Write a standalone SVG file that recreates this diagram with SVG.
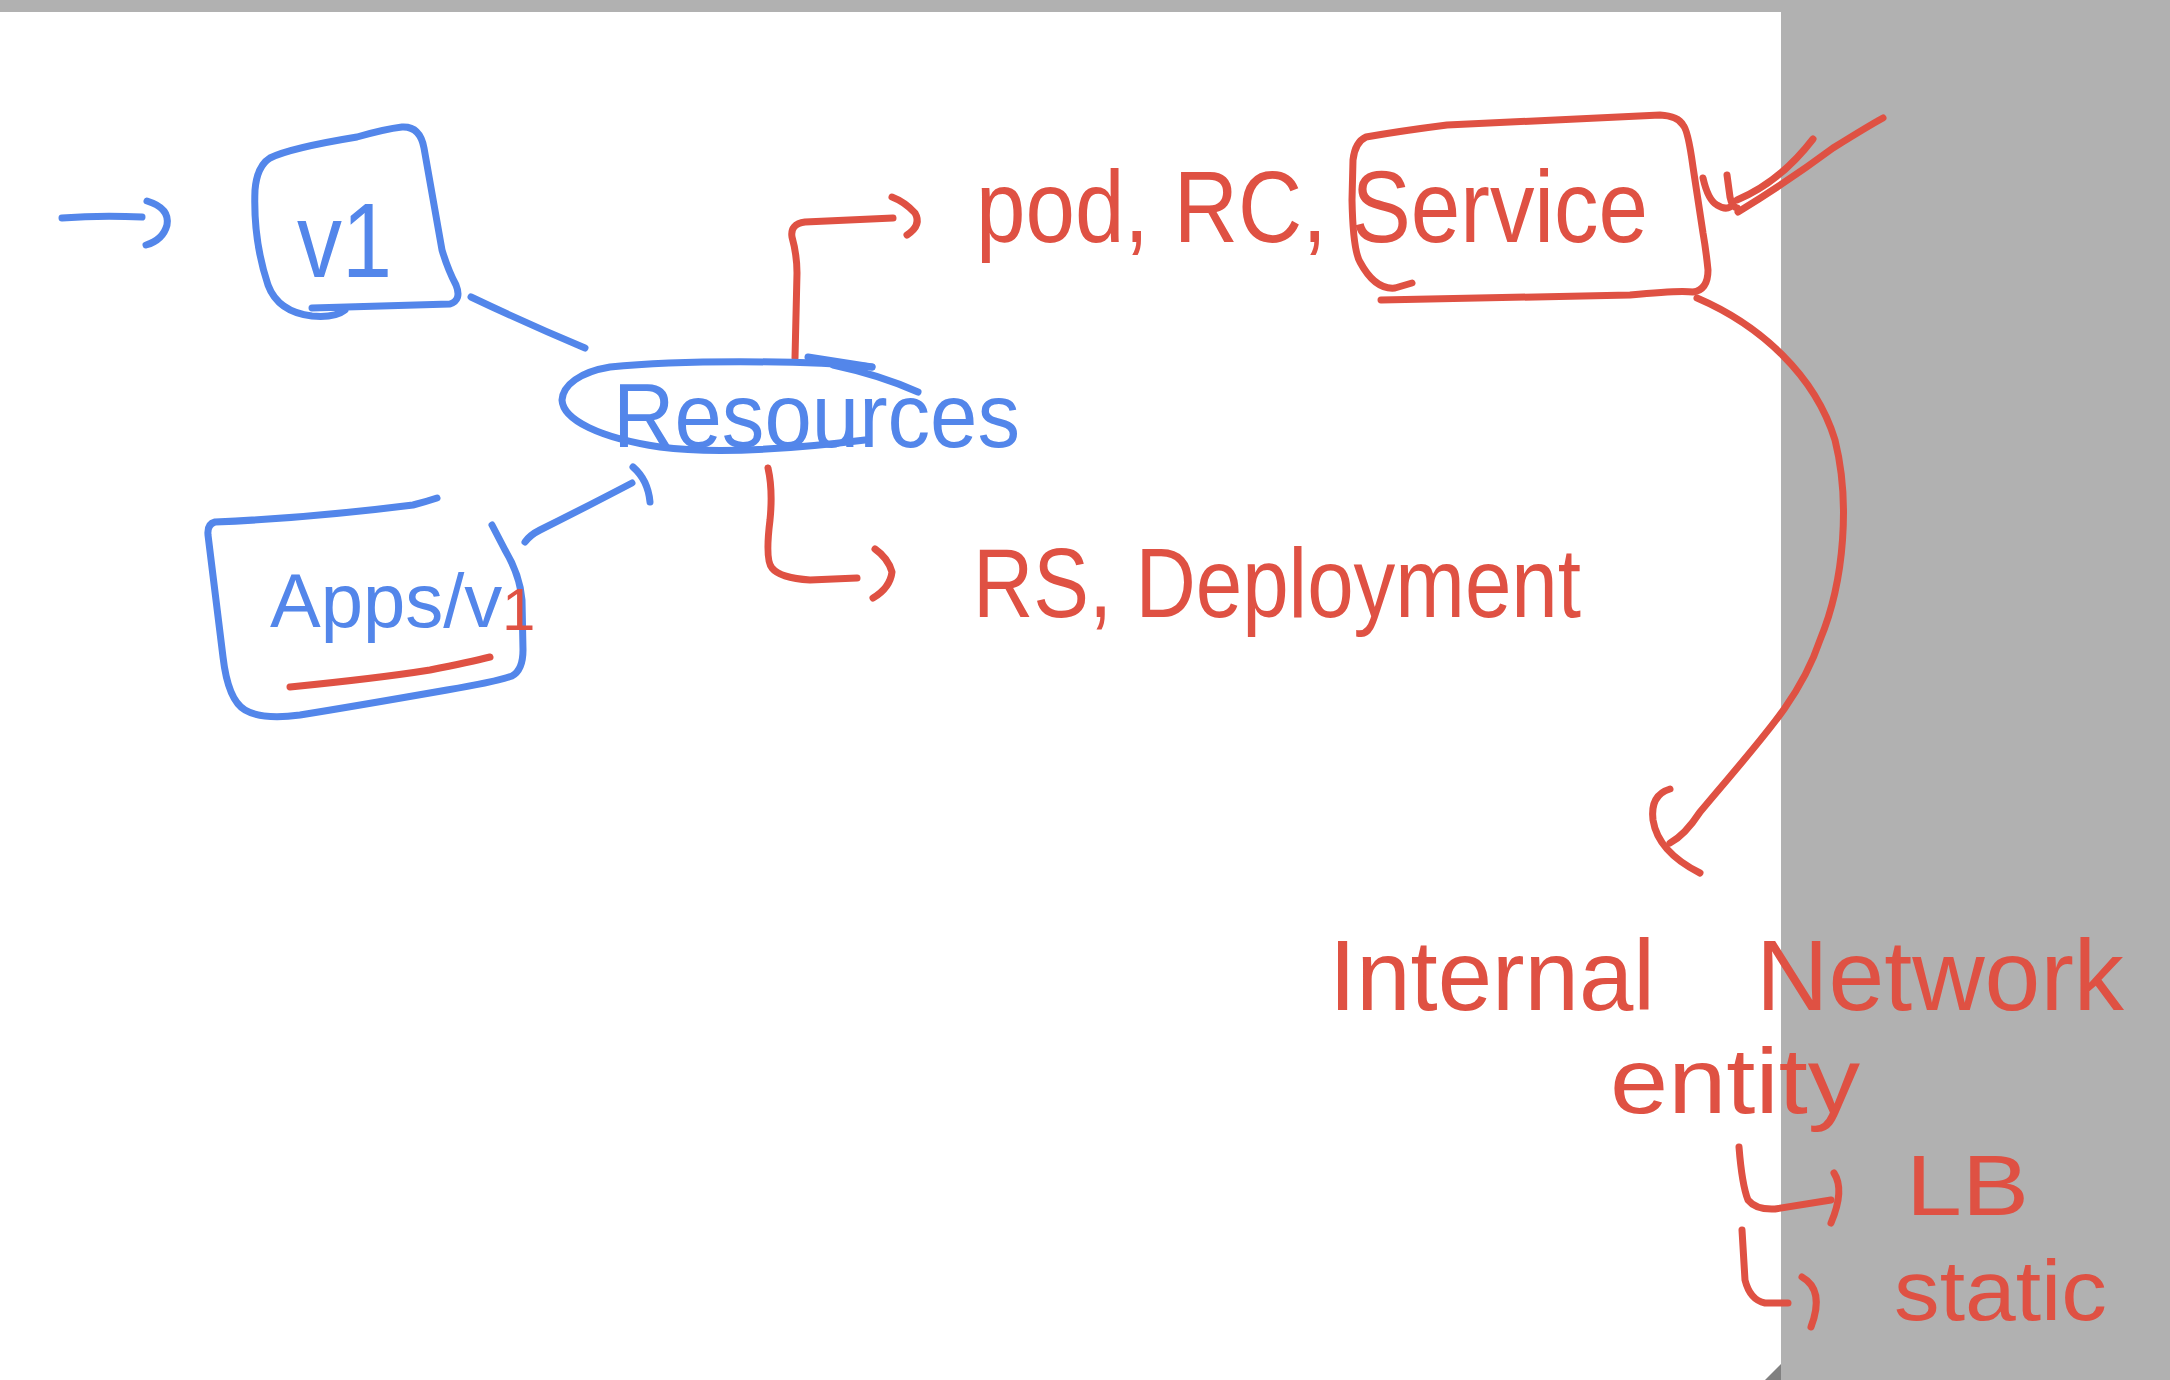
<svg xmlns="http://www.w3.org/2000/svg" width="2170" height="1380" viewBox="0 0 2170 1380">
<style>
.b{fill:none;stroke:#5386EA;stroke-width:7;stroke-linecap:round;stroke-linejoin:round}
.r{fill:none;stroke:#DF5143;stroke-width:7;stroke-linecap:round;stroke-linejoin:round}
.tb{font-family:"Liberation Sans",Arial,sans-serif;fill:#5386EA}
.tr{font-family:"Liberation Sans",Arial,sans-serif;fill:#DF5143}
</style>
<rect x="0" y="0" width="2170" height="1380" fill="#ffffff"/>
<rect x="0" y="0" width="2170" height="12" fill="#b1b1b1"/>
<rect x="1781" y="0" width="389" height="1380" fill="#b1b1b1"/>
<polygon points="1765,1380 1781,1364 1781,1380" fill="#808080"/>

<g id="connectors">
<path class="b" d="M 62,218 Q 100,215 142,217"/>
<path class="b" d="M 147,201 Q 170,208 167,225 Q 163,240 146,245"/>
<path class="b" d="M 471,297 Q 530,325 585,348"/>
<path class="b" d="M 525,542 Q 530,535 540,530 Q 590,505 632,483"/>
<path class="b" d="M 633,467 Q 648,480 650,502"/>
<path class="r" d="M 795,358 L 797,273 Q 797,255 792,237 Q 790,224 805,222 L 893,218"/>
<path class="r" d="M 892,197 Q 905,202 915,213 Q 922,225 907,235"/>
<path class="r" d="M 768,468 Q 773,490 770,520 Q 765,560 772,568 Q 780,578 810,580 L 857,578"/>
<path class="r" d="M 875,549 Q 888,558 892,572 Q 890,588 873,598"/>
<path class="r" d="M 1697,298 C 1760,325 1815,375 1835,440 C 1850,500 1845,580 1820,640 C 1800,700 1760,740 1700,812 Q 1685,835 1670,843"/>
<path class="r" d="M 1670,789 Q 1650,795 1653,820 Q 1658,852 1700,873"/>
<path class="r" d="M 1739,1147 Q 1742,1185 1748,1200 Q 1756,1210 1775,1209 L 1831,1200"/>
<path class="r" d="M 1834,1173 Q 1845,1190 1831,1223"/>
<path class="r" d="M 1742,1230 L 1745,1280 Q 1750,1300 1765,1303 L 1788,1303"/>
<path class="r" d="M 1802,1277 Q 1825,1290 1811,1327"/>
</g>

<g id="v1">
<path class="b" d="M 312,308 L 450,304 Q 462,300 456,285 Q 448,270 442,250 L 424,148 Q 420,126 402,127 Q 385,129 357,137 Q 290,148 270,158 Q 257,166 255,190 Q 253,240 268,285 Q 278,312 312,316 Q 335,318 345,310"/>
<text class="tb" x="297" y="277" font-size="105" textLength="95" lengthAdjust="spacingAndGlyphs">v1</text>
</g>

<g id="resources">
<path class="b" d="M 872,367 C 800,360 680,360 610,367 C 580,372 563,385 562,400 C 563,420 600,438 660,447 C 720,455 800,448 865,440"/>
<path class="b" d="M 808,357 L 872,367 M 833,365 Q 880,375 918,392"/>
<text class="tb" x="613" y="447" font-size="90" textLength="407" lengthAdjust="spacingAndGlyphs">Resources</text>
</g>

<g id="apps-v1">
<path class="b" d="M 437,498 Q 425,502 413,505 Q 310,518 215,522 Q 207,524 208,535 L 223,657 Q 228,700 245,710 Q 262,720 300,715 Q 350,707 447,690 Q 495,682 512,676 Q 523,670 523,650 L 522,600 Q 520,575 505,550 L 492,525"/>
<text class="tb" x="270" y="627" font-size="76">Apps/v<tspan x="502" y="630" fill="#DF5143" font-size="60">1</tspan></text>
<path class="r" d="M 290,687 Q 380,678 430,670 Q 470,662 490,657"/>
</g>

<g id="pod-rc-service">
<text class="tr" x="976" y="242" font-size="102" textLength="672" lengthAdjust="spacingAndGlyphs">pod, RC, Service</text>
<path class="r" d="M 1381,300 Q 1500,298 1630,295 Q 1680,290 1693,292 Q 1708,290 1708,270 Q 1706,250 1703,233 L 1693,167 Q 1688,130 1683,125 Q 1678,116 1660,115 L 1447,125 Q 1400,131 1366,137 Q 1355,142 1353,160 L 1352,200 Q 1353,250 1360,262 Q 1375,290 1395,288 L 1412,283"/>
<path class="r" d="M 1703,178 Q 1708,200 1717,205 Q 1725,210 1730,207 M 1727,175 L 1730,197 Q 1732,207 1737,208"/>
<path class="r" d="M 1737,200 Q 1780,182 1813,139 M 1738,212 Q 1790,180 1833,148 Q 1870,125 1883,118"/>
</g>

<g id="rs-deployment">
<text class="tr" x="973" y="617" font-size="98" textLength="608" lengthAdjust="spacingAndGlyphs">RS, Deployment</text>
</g>

<g id="internal-network-entity">
<text class="tr" x="1329" y="1010" font-size="100" textLength="326" lengthAdjust="spacingAndGlyphs">Internal</text>
<text class="tr" x="1756" y="1010" font-size="100" textLength="368" lengthAdjust="spacingAndGlyphs">Network</text>
<text class="tr" x="1610" y="1113" font-size="92" textLength="250" lengthAdjust="spacingAndGlyphs">entity</text>
</g>

<g id="lb">
<text class="tr" x="1906" y="1215" font-size="85" textLength="123" lengthAdjust="spacingAndGlyphs">LB</text>
</g>

<g id="static">
<text class="tr" x="1894" y="1320" font-size="85" textLength="213" lengthAdjust="spacingAndGlyphs">static</text>
</g>
</svg>
